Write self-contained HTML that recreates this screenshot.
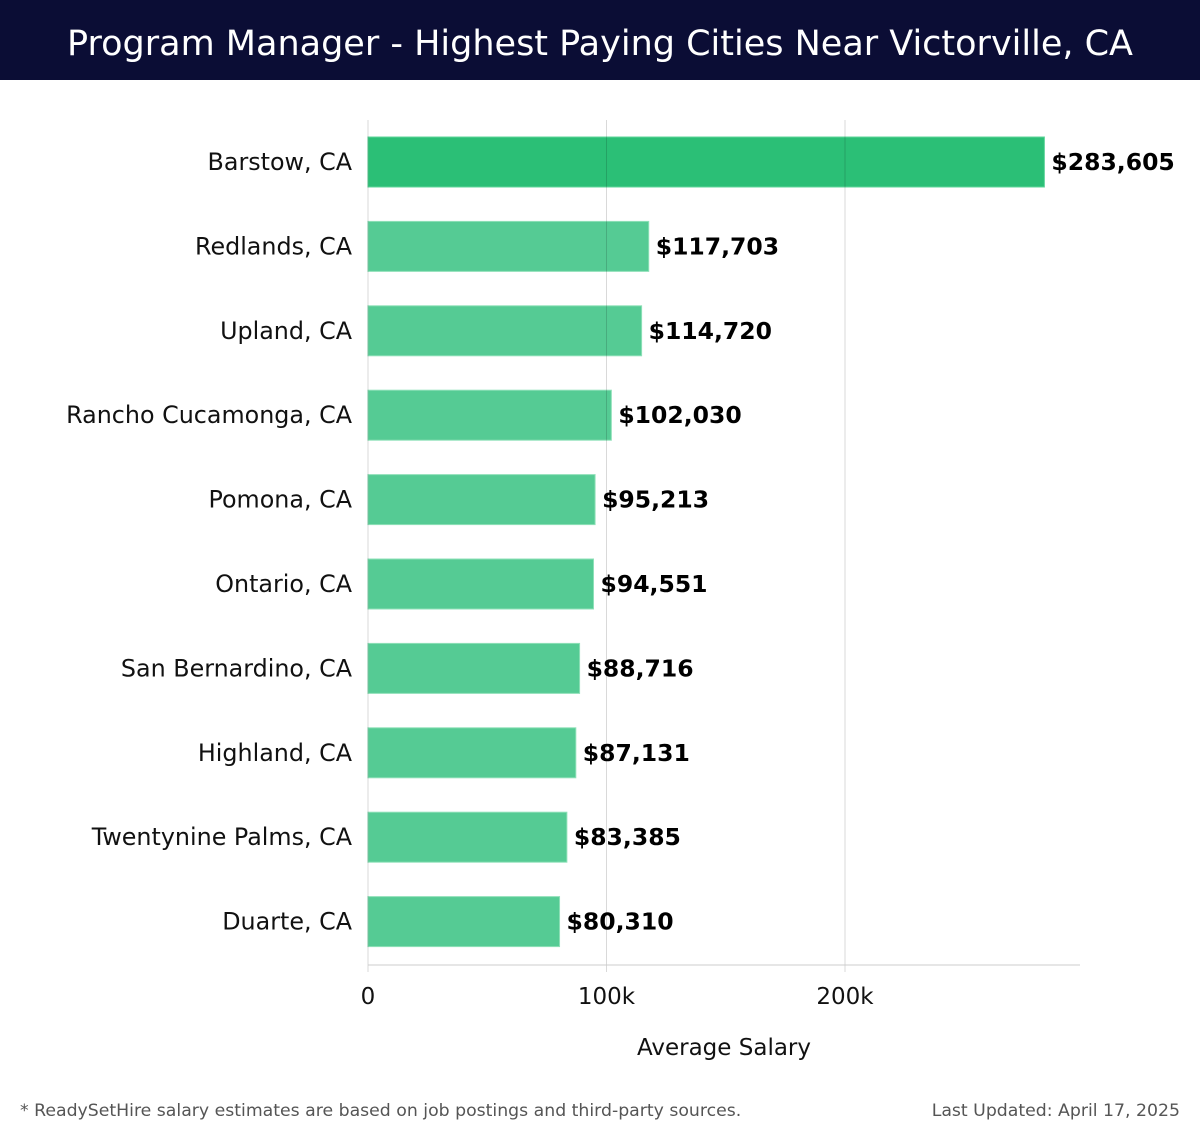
<!DOCTYPE html>
<html><head><meta charset="utf-8"><style>
body{margin:0;width:1200px;height:1140px;background:#fff;font-family:"DejaVu Sans","Liberation Sans",sans-serif;overflow:hidden;position:relative}
#hdr{position:absolute;left:0;top:0;width:1200px;height:80px;background:#0b0d35;color:#fff;font-size:35px;text-align:center;line-height:88px;white-space:nowrap}
.foot{position:absolute;top:1101px;font-size:17.3px;color:#555}
</style></head><body>
<div id="hdr">Program Manager - Highest Paying Cities Near Victorville, CA</div>
<svg id="c" width="1200" height="1140" style="position:absolute;left:0;top:0"></svg>
<div class="foot" style="left:20px">* ReadySetHire salary estimates are based on job postings and third-party sources.</div>
<div class="foot" style="right:20px">Last Updated: April 17, 2025</div>
<script>
const categories=["Barstow, CA","Redlands, CA","Upland, CA","Rancho Cucamonga, CA","Pomona, CA","Ontario, CA","San Bernardino, CA","Highland, CA","Twentynine Palms, CA","Duarte, CA"];
const values=[283605,117703,114720,102030,95213,94551,88716,87131,83385,80310];
const ticks=[0,100000,200000];
const tickLabels=["0","100k","200k"];
const svg=document.getElementById('c');const NS="http://www.w3.org/2000/svg";
const x0=368,scale=(845-368)/200000,top0=120,step=84.4,bh=50;
const X=v=>x0+v*scale;const Yc=i=>top0+42+i*step;
function mk(t,a,p){const e=document.createElementNS(NS,t);for(const k in a)e.setAttribute(k,a[k]);(p||svg).appendChild(e);return e;}
values.forEach((v,i)=>{
 const r=mk('rect',{x:x0,y:Yc(i)-bh/2,width:X(v)-x0,height:bh,fill:i==0?'#2bbf76':'#55cb94',stroke:i==0?'#5fd49a':'#8fe0b8','stroke-width':1});
 
 
 const l=mk('text',{x:352,y:Yc(i)+8,'text-anchor':'end','font-size':23.8,fill:'#111'});l.textContent=categories[i];
 
 
 const vl=mk('text',{x:X(v)+7,y:Yc(i)+8,'font-size':23.5,'font-weight':'bold',fill:'#000'});vl.textContent='$'+v.toLocaleString('en-US');
 
 
});
ticks.forEach((t,i)=>{
 const g=mk('line',{x1:X(t),x2:X(t),y1:top0,y2:972,stroke:'rgba(0,0,0,0.15)','stroke-width':1});
 
 
 const tl=mk('text',{x:X(t),y:1004,'text-anchor':'middle','font-size':23,fill:'#111'});tl.textContent=tickLabels[i];
 
 
});
const ax=mk('line',{x1:x0,x2:1080,y1:965,y2:965,stroke:'#ccc','stroke-width':1});


const at=mk('text',{x:724,y:1055,'text-anchor':'middle','font-size':23,fill:'#111'});at.textContent='Average Salary';


</script>
</body></html>
